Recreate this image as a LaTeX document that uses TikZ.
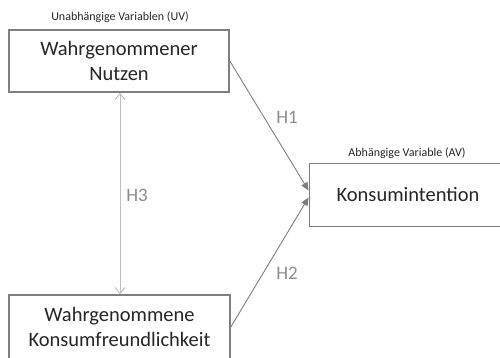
\documentclass[tikz,border=0pt]{standalone}
\usepackage{fontspec}
\setmainfont{Carlito}
\usetikzlibrary{arrows.meta}
\definecolor{boxgray}{HTML}{7F7F7F}
\definecolor{txt}{HTML}{262626}
\definecolor{hgray}{HTML}{8C8C8C}
\definecolor{lgray}{HTML}{BFBFBF}
\tikzset{
  bigbox/.style={draw=boxgray, line width=1.6pt, fill=white, inner sep=0pt, align=center,
    font=\fontsize{20.5}{25}\selectfont, text=txt},
  smallbox/.style={draw=boxgray, line width=0.9pt, fill=white, inner sep=0pt, align=center,
    font=\fontsize{20.5}{25}\selectfont, text=txt},
  caption/.style={font=\fontsize{12}{14}\selectfont, text=txt, inner sep=0pt},
  hlabel/.style={font=\fontsize{19}{22}\selectfont, text=hgray, inner sep=0pt},
  effect/.style={draw=boxgray, line width=0.9pt, -{Triangle[length=8pt,width=7pt]}},
  corr/.style={draw=lgray, line width=1pt, {Straight Barb[length=6pt,width=10pt]}-{Straight Barb[length=6pt,width=10pt]}}
}
\begin{document}
\begin{tikzpicture}[x=1pt,y=-1pt]
\useasboundingbox (0,0) rectangle (500,358);
\node[bigbox, minimum width=220pt, minimum height=62pt] (nutzen) at (119,61) {Wahrgenommener\\Nutzen};
\node[bigbox, minimum width=221pt, minimum height=64pt] (freund) at (119.5,327) {Wahrgenommene\\Konsumfreundlichkeit};
\node[smallbox, minimum width=198pt, minimum height=63pt] (kons) at (408,194.5) {Konsumintention};
\node[caption] (uv) at (120,17) {Unabhängige Variablen (UV)};
\node[caption] (av) at (407,153) {Abhängige Variable (AV)};
\draw[effect] (nutzen.east) -- ([yshift=4pt]kons.west);
\draw[effect] (freund.east) -- ([yshift=-3pt]kons.west);
\draw[corr] ([xshift=1pt]nutzen.south) -- ([xshift=0.5pt]freund.north);
\node[hlabel] (h1) at (287,117) {H1};
\node[hlabel] (h2) at (287,273) {H2};
\node[hlabel] (h3) at (137,195) {H3};
\end{tikzpicture}
\end{document}
